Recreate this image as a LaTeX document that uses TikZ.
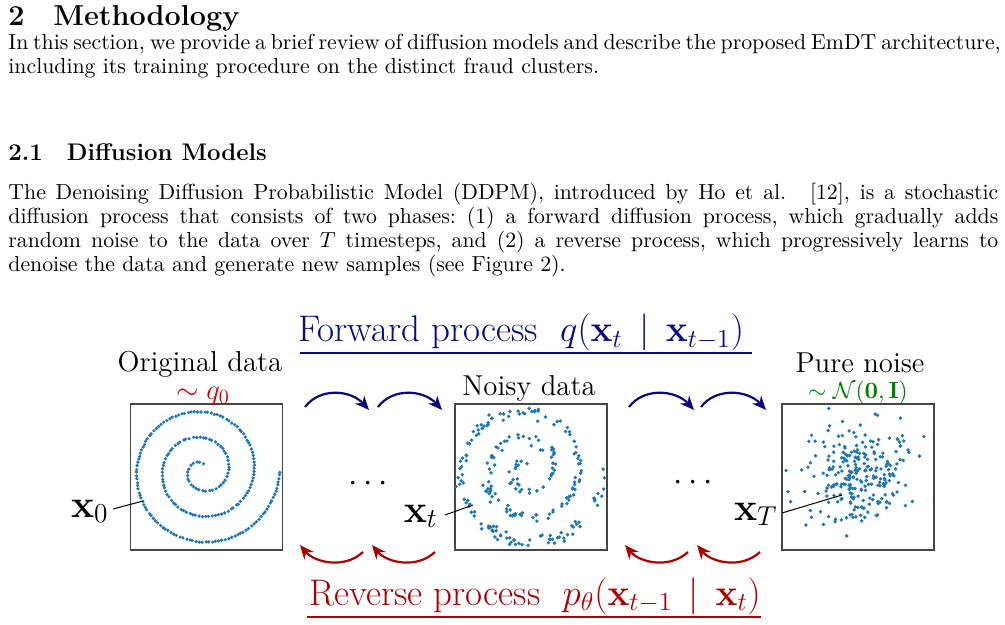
\RequirePackage{fix-cm}
\documentclass[tikz,border=0pt]{standalone}
\usepackage{amsmath}
\usetikzlibrary{arrows.meta,calc}
\definecolor{fwd}{RGB}{10,10,128}
\definecolor{rev}{RGB}{170,0,0}
\definecolor{qred}{RGB}{210,0,0}
\definecolor{greenc}{RGB}{0,128,0}
\definecolor{dotc}{HTML}{1F77B4}
\definecolor{boxc}{RGB}{70,70,70}
\begin{document}
\begin{tikzpicture}[x=0.5pt,y=-0.5pt,
  body/.style={anchor=base west,inner sep=0pt,font=\fontsize{10.9}{12}\selectfont},
  sechead/.style={anchor=base west,inner sep=0pt,font=\fontsize{14.4}{17}\selectfont\bfseries},
  subhead/.style={anchor=base west,inner sep=0pt,font=\fontsize{12}{14}\selectfont\bfseries},
  databox/.style={draw=boxc,line width=0.55pt,minimum width=76pt,minimum height=73pt,inner sep=0pt},
  lab/.style={anchor=base,inner sep=0pt,font=\fontsize{14.4}{16}\selectfont},
  xlab/.style={anchor=base east,inner sep=0pt,font=\fontsize{19.5}{22}\selectfont},
  dotsnode/.style={anchor=base,inner sep=0pt,font=\fontsize{16.8}{20}\selectfont},
  title/.style={anchor=base,inner sep=0pt,font=\fontsize{18.5}{22}\selectfont},
  farr/.style={draw=fwd,line width=1.1pt,-{Stealth[length=7pt,width=6pt]}},
  rarr/.style={draw=rev,line width=1.1pt,-{Stealth[length=7pt,width=6pt]}},
  pointer/.style={draw=black,line width=0.5pt},
]
\useasboundingbox (0,0) rectangle (1005,625);

% ---- text ----
\node[sechead] (sec) at (8,26) {2\quad Methodology};
\node[body] (p1a) at (8,50) {\makebox[495pt][s]{In this section, we provide a brief review of diffusion models and describe the proposed EmDT architecture,}};
\node[body] (p1b) at (8,74) {including its training procedure on the distinct fraud clusters.};
\node[subhead] (subsec) at (8,161) {2.1\quad Diffusion Models};
\node[body] (p2a) at (8,200) {\frenchspacing\makebox[495pt][s]{The Denoising Diffusion Probabilistic Model (DDPM), introduced by Ho et al.\hspace{7pt}\ [12], is a stochastic}};
\node[body] (p2b) at (8,224) {\frenchspacing\makebox[495pt][s]{diffusion process that consists of two phases: (1) a forward diffusion process, which gradually adds}};
\node[body] (p2c) at (8,248) {\frenchspacing\makebox[495pt][s]{random noise to the data over $T$ timesteps, and (2) a reverse process, which progressively learns to}};
\node[body] (p2d) at (8,272) {denoise the data and generate new samples (see Figure 2).};

% ---- titles ----
\node[title,text=fwd] (ft) at (521,342) {Forward process\hspace{0.6em}$q(\mathbf{x}_t \,\mid\, \mathbf{x}_{t-1})$};
\draw[fwd,line width=0.8pt] ($(ft.base west)+(2,11)$) -- ($(ft.base east)+(8,11)$);
\node[title,text=rev] (rt) at (535,605) {Reverse process\hspace{0.6em}$p_\theta(\mathbf{x}_{t-1} \,\mid\, \mathbf{x}_t)$};
\draw[rev,line width=0.8pt] ($(rt.base west)+(-2,12)$) -- ($(rt.base east)+(0,12)$);

% ---- boxes ----
\node[databox] (b0) at (206.5,477) {};
\node[databox] (bt) at (531,477) {};
\node[databox] (bT) at (858,477) {};

\node[lab] (l0) at (200,371) {Original data};
\node[lab,text=qred] (q0) at (203,399) {$\sim q_0$};
\node[lab] (lt) at (529,395) {Noisy data};
\node[lab] (lT) at (860,372) {Pure noise};
\node[anchor=base,inner sep=0pt,font=\fontsize{11.7}{14}\selectfont,text=greenc] (nT) at (858,398) {$\sim \mathcal{N}(\mathbf{0},\mathbf{I})$};

\node[dotsnode] (d1) at (371,491) {$\cdots$};
\node[dotsnode] (d2) at (696,490) {$\cdots$};

% ---- scatter: spiral ----
\pgfmathsetseed{11}
\foreach \i in {1,...,225}{
  \pgfmathsetmacro{\rr}{sqrt(30+((\i-0.5)/225+0.002*(rnd-0.5))*(6068-30))}
  \pgfmathsetmacro{\uu}{(77.9-\rr)/25.6}
  \pgfmathsetmacro{\px}{202+\rr*cos(360*\uu)+0.7*(rnd-0.5)}
  \pgfmathsetmacro{\py}{470.5+\rr*sin(360*\uu)+0.7*(rnd-0.5)}
  \fill[dotc] (\px,\py) circle[radius=0.9pt];
}
% ---- scatter: noisy spiral ----
\pgfmathsetseed{5}
\foreach \i in {1,...,240}{
  \pgfmathsetmacro{\rr}{sqrt(30+rnd*(6068-30))}
  \pgfmathsetmacro{\uu}{(77.9-\rr)/25.6}
  \pgfmathsetmacro{\gr}{2.8*sqrt(-2*ln(0.0001+0.9999*rnd))}
  \pgfmathsetmacro{\ga}{360*rnd}
  \pgfmathsetmacro{\px}{526.5+\rr*cos(360*\uu)+\gr*cos(\ga)}
  \pgfmathsetmacro{\py}{470.5+\rr*sin(360*\uu)+\gr*sin(\ga)}
  \fill[dotc] (\px,\py) circle[radius=0.95pt];
}
% ---- scatter: pure noise ----
\pgfmathsetseed{23}
\begin{scope}
\clip ($(bT.north west)+(3,3)$) rectangle ($(bT.south east)+(-3,-3)$);
\foreach \i in {1,...,250}{
  \pgfmathsetmacro{\gr}{24*sqrt(-2*ln(0.0001+0.9999*rnd))}
  \pgfmathsetmacro{\ga}{360*rnd}
  \pgfmathsetmacro{\px}{858+\gr*cos(\ga)}
  \pgfmathsetmacro{\py}{477+\gr*sin(\ga)}
  \fill[dotc] (\px,\py) circle[radius=0.95pt];
}
\end{scope}

% ---- x labels ----
\node[xlab] (x0) at (109,517) {$\mathbf{x}_0$};
\node[xlab] (xt) at (438,522) {$\mathbf{x}_t$};
\node[xlab] (xT) at (778,520) {$\mathbf{x}_T$};
\coordinate (p0) at (143,501);
\coordinate (pt) at (473,505);
\coordinate (pT) at (842,495);
\draw[pointer] ($(x0.base east)+(4,-8)$) -- (p0);
\draw[pointer] ($(xt.base east)+(7,-7)$) -- (pt);
\draw[pointer] ($(xT.base east)+(4,-7)$) -- (pT);

% ---- forward arrows ----
\coordinate (f1s) at (305,407); \coordinate (f1e) at (369,410);
\coordinate (f2s) at (378,407); \coordinate (f2e) at (442,410);
\coordinate (f3s) at (629,407); \coordinate (f3e) at (694,410);
\coordinate (f4s) at (701,407); \coordinate (f4e) at (766,410);
\foreach \k in {1,2,3,4}{
  \draw[farr] (f\k s) .. controls +(15,-20) and +(-18,-20) .. (f\k e);
}
% ---- reverse arrows ----
\coordinate (r1s) at (363,552); \coordinate (r1e) at (300,545);
\coordinate (r2s) at (435,552); \coordinate (r2e) at (372,545);
\coordinate (r3s) at (688,552); \coordinate (r3e) at (625,545);
\coordinate (r4s) at (760,552); \coordinate (r4e) at (697,545);
\foreach \k in {1,2,3,4}{
  \draw[rarr] (r\k s) .. controls +(-18,17) and +(15,18) .. (r\k e);
}
\end{tikzpicture}
\end{document}
